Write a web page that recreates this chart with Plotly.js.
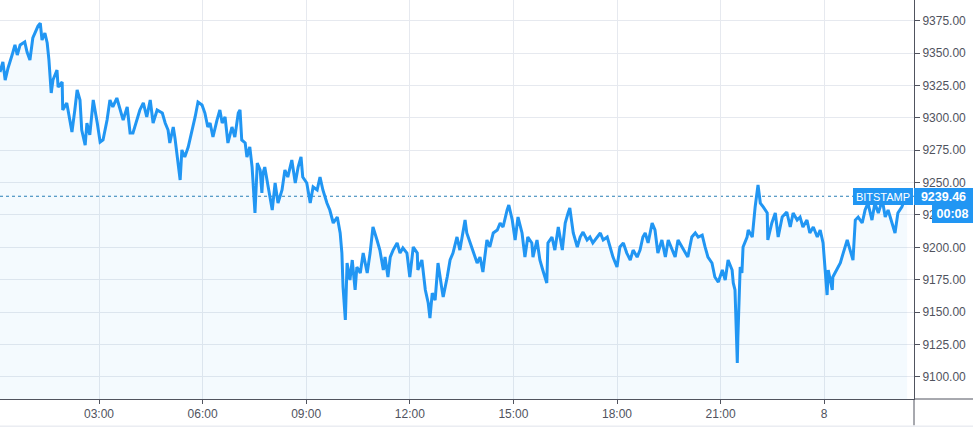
<!DOCTYPE html>
<html>
<head>
<meta charset="utf-8">
<script src="https://cdn.plot.ly/plotly-3.0.1.min.js"></script>
<style>
  html, body { margin: 0; padding: 0; background: #ffffff; }
  #chart { width: 973px; height: 430px; }
</style>
</head>
<body>
<div id="chart"></div>
<script>
// Minutes since 00:00 of the first day
const minutes = [
  8,13,17,22,29,34,38,43,51,55,60,65,74,78,81,86,90,93,97,100,107,109,116,117,124,130,133,138,142,147,150,156,159,164,170,177,182,187,194,199,204,211,217,222,229,
  234,239,246,251,257,263,269,274,281,290,295,300,303,309,312,317,321,324,329,335,342,347,352,359,364,369,373,378,385,390,394,399,404,411,416,422,425,428,434,437,442,446,451,455,
  460,463,465,468,474,481,486,491,498,503,508,515,521,526,531,534,541,547,552,559,564,569,576,581,587,594,599,602,604,608,611,616,620,625,628,634,639,646,651,656,663,668,674,
  677,682,686,691,698,703,708,715,720,726,733,734,741,747,752,755,759,764,769,776,778,785,790,795,802,807,816,819,825,830,837,842,847,854,859,865,872,877,882,889,892,898,903,
  908,915,920,925,932,934,941,946,951,958,960,967,972,978,985,990,995,998,1004,1011,1016,1021,1028,1033,1038,1045,1051,1056,1063,1068,1073,1080,1085,1091,1097,1103,1108,1115,1120,1125,
  1129,1134,1141,1146,1151,1158,1164,1169,1176,1181,1186,1193,1198,1203,1210,1216,1221,1228,1233,1238,1245,1250,1256,1263,1268,1273,1280,1282,1285,1289,1290,1294,1297,1299,1306,1308,1315,1320,1325,1329,1334,1341,1342,1349,1355,
  1360,1367,1375,1381,1386,1393,1398,1403,1410,1415,1421,1428,1433,1438,1441,1445,1447,1454,1455,1462,1468,1473,1480,1485,1490,1494,1499,1506,1511,1516,1523,1528,1534,1541,1546,1551,1558,1563,1568,1575,1581,1584
];

const prices = [
  9335.4,9343.1,9329.2,9338.5,9348.5,9356.3,9348.5,9356.3,9358.6,9350.8,9344.7,9361.7,9370.9,9373.2,9360.1,9365.5,9357.8,9344.7,9319.2,9329.2,9336.9,9323.8,9327.7,9306.1,9311.5,9298.3,9289.1,9306.1,9321.5,9313.8,9290.6,9279.0,9296.0,9286.8,9313.8,9296.0,9281.3,9282.9,9298.3,9313.8,9308.4,9315.3,9306.1,9298.3,9308.4,
  9288.3,9288.3,9298.3,9306.1,9311.5,9300.7,9313.8,9296.0,9306.1,9303.7,9296.0,9290.6,9280.6,9292.9,9284.4,9267.4,9252.0,9275.2,9269.8,9277.5,9290.6,9300.7,9312.2,9309.9,9303.7,9292.9,9296.0,9285.2,9298.3,9306.1,9296.0,9300.7,9280.6,9292.9,9285.2,9303.7,9306.1,9282.9,9280.6,9269.8,9277.5,9262.0,9226.5,9265.1,
  9259.7,9242.0,9257.4,9262.0,9246.6,9228.8,9249.7,9234.2,9244.3,9259.7,9254.3,9267.4,9249.7,9262.0,9269.8,9254.3,9249.7,9234.2,9246.6,9244.3,9254.3,9244.3,9234.2,9228.8,9218.8,9223.4,9211.1,9195.6,9169.4,9143.9,9187.9,9174.8,9190.2,9167.1,9184.8,9180.2,9195.6,9180.2,9195.6,9215.7,9205.7,9197.9,9182.5,
  9192.5,9177.1,9192.5,9197.9,9203.4,9195.6,9199.5,9195.6,9177.1,9200.3,9195.6,9182.5,9190.2,9167.1,9157.0,9145.4,9164.7,9159.3,9187.9,9167.1,9161.7,9177.1,9190.2,9195.6,9208.0,9197.9,9221.1,9211.1,9203.4,9197.9,9187.9,9192.5,9181.0,9205.7,9200.3,9211.1,9213.4,9218.8,9215.7,9228.8,9232.7,9221.1,9205.7,
  9223.4,9211.1,9192.5,9208.0,9203.4,9192.5,9205.7,9190.2,9182.5,9172.5,9203.4,9208.0,9197.9,9215.7,9197.9,9218.8,9226.5,9230.4,9211.1,9200.3,9208.0,9211.8,9205.7,9208.0,9203.4,9208.0,9211.1,9205.7,9208.0,9200.3,9192.5,9184.8,9200.3,9203.4,9195.6,9190.2,9197.9,9192.5,9197.9,9208.0,
  9211.1,9203.4,9218.8,9213.4,9195.6,9205.7,9192.5,9205.7,9197.9,9192.5,9205.7,9200.3,9196.4,9192.5,9208.0,9211.1,9208.0,9209.5,9200.3,9192.5,9187.9,9177.1,9173.2,9182.5,9174.8,9190.2,9182.5,9172.5,9167.1,9110.7,9130.8,9184.8,9180.2,9200.3,9208.0,9213.4,9208.0,9231.2,9248.1,9234.2,9231.2,9226.5,9205.7,9218.8,9226.5,
  9208.0,9223.4,9227.3,9215.7,9226.5,9221.1,9223.4,9215.7,9221.1,9211.1,9215.7,9208.0,9213.4,9203.4,9187.9,9163.2,9182.5,9167.1,9177.1,9182.5,9187.9,9195.6,9205.7,9197.9,9190.2,9221.1,9223.4,9218.8,9228.8,9234.2,9221.1,9234.2,9226.5,9236.6,9223.4,9228.8,9218.8,9211.1,9226.5,9231.2,9238.9,9239.46
];

const tickHours = [3, 6, 9, 12, 15, 18, 21, 24];
const tickLabels = ['03:00', '06:00', '09:00', '12:00', '15:00', '18:00', '21:00', '8'];
const exchangeName = 'BITSTAMP';
const lastPrice = 9239.46;
const countdown = '00:08';
const viewStartMin = 8;
const viewEndMin = 1596;
const priceRange = [9082.9, 9391];

const BASE = Date.UTC(2020, 5, 7, 0, 0);
function toDate(m) {
  return new Date(BASE + m * 60000).toISOString().slice(0, 16).replace('T', ' ');
}

const xs = minutes.map(toDate);
const tickVals = tickHours.map(h => toDate(h * 60));

const FONT = 'Liberation Sans, Arial, sans-serif';
const AXIS = '#50535e';
const GRID = '#e6e9ef';
const BLUE = '#2196f3';

const trace = {
  x: xs, y: prices, type: 'scatter', mode: 'lines',
  line: { color: BLUE, width: 3, shape: 'linear' },
  fill: 'tozeroy', fillcolor: 'rgba(33,150,243,0.05)',
  hoverinfo: 'skip'
};

const rightExt = 973 / 914;

const layout = {
  width: 973, height: 430,
  margin: { l: 0, r: 59, t: 0, b: 31, pad: 0 },
  paper_bgcolor: '#ffffff', plot_bgcolor: '#ffffff',
  showlegend: false,
  font: { family: FONT, size: 12, color: AXIS },
  xaxis: {
    type: 'date',
    range: [toDate(viewStartMin), toDate(viewEndMin)],
    tickmode: 'array', tickvals: tickVals, ticktext: tickLabels,
    showgrid: true, gridcolor: GRID, gridwidth: 1,
    showline: true, linecolor: AXIS, linewidth: 1,
    ticks: 'outside', ticklen: 4, tickcolor: AXIS,
    tickfont: { family: FONT, size: 12, color: AXIS },
    zeroline: false, fixedrange: true
  },
  yaxis: {
    side: 'right',
    range: priceRange,
    tick0: 9100, dtick: 25, tickformat: '.2f',
    showgrid: true, gridcolor: GRID, gridwidth: 1,
    showline: true, linecolor: AXIS, linewidth: 1,
    ticks: 'outside', ticklen: 5, tickcolor: AXIS,
    tickfont: { family: FONT, size: 12, color: AXIS },
    zeroline: false, fixedrange: true
  },
  shapes: [
    { type: 'line', xref: 'paper', x0: 0, x1: 1, yref: 'y', y0: lastPrice, y1: lastPrice,
      line: { color: '#2a7fb5', width: 1, dash: 'dot' }, layer: 'below' },
    { type: 'line', xref: 'paper', x0: 1, x1: 1, yref: 'paper', y0: 0, y1: -0.066,
      line: { color: AXIS, width: 1 } },
    { type: 'line', xref: 'paper', x0: 1, x1: rightExt, yref: 'paper', y0: 0, y1: 0,
      line: { color: AXIS, width: 1 } },
    { type: 'line', xref: 'paper', x0: 0, x1: rightExt, yref: 'paper', y0: -0.068, y1: -0.068,
      line: { color: '#e0e3eb', width: 1 } }
  ],
  annotations: [
    { xref: 'paper', x: 1, xanchor: 'right', xshift: -1, yref: 'y', y: lastPrice, yanchor: 'middle',
      text: exchangeName, showarrow: false, bgcolor: BLUE, borderwidth: 0, borderpad: 1,
      width: 58, height: 15, font: { family: FONT, size: 11, color: '#ffffff' } },
    { xref: 'paper', x: 1, xanchor: 'left', yref: 'y', y: lastPrice, yanchor: 'middle',
      text: lastPrice.toFixed(2), showarrow: false, bgcolor: BLUE, borderwidth: 0, borderpad: 1,
      width: 57, height: 15, font: { family: FONT, size: 12.5, color: '#ffffff', weight: 'bold' } },
    { xref: 'paper', x: rightExt, xanchor: 'right', yref: 'y', y: lastPrice, yanchor: 'middle', yshift: -18,
      text: countdown, showarrow: false, bgcolor: BLUE, borderwidth: 0, borderpad: 1,
      width: 39, height: 16, font: { family: FONT, size: 12.5, color: '#ffffff', weight: 'bold' } }
  ]
};

Plotly.newPlot('chart', [trace], layout, { displayModeBar: false, staticPlot: true });
</script>
</body>
</html>
